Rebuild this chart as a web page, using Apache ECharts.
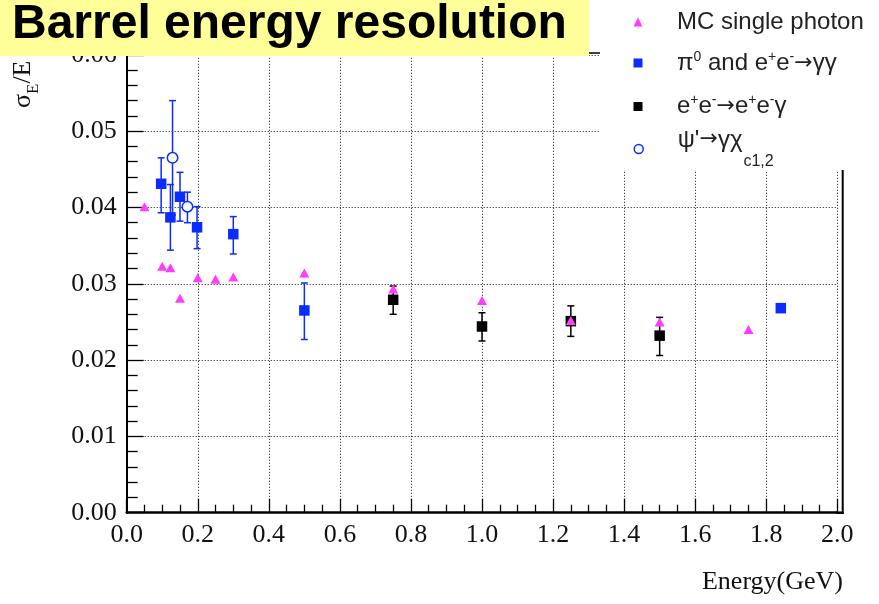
<!DOCTYPE html>
<html>
<head>
<meta charset="utf-8">
<script src="https://cdn.jsdelivr.net/npm/echarts@6/dist/echarts.min.js"></script>
<style>
  html, body { margin: 0; padding: 0; background: #fff; }
  #chart { width: 879px; height: 604px; }
</style>
</head>
<body>
<div id="chart"></div>
<script>
// ---- data ----
// MC single photon
const mcEnergy = [0.05, 0.10, 0.123, 0.15, 0.20, 0.25, 0.30, 0.50, 0.75, 1.00, 1.25, 1.50, 1.75];
const mcRes    = [0.0401, 0.0323, 0.0321, 0.0281, 0.0308, 0.0306, 0.0309, 0.0314, 0.0293, 0.0278, 0.0252, 0.0250, 0.0240];

// pi0 and e+e- -> gamma gamma
const ggEnergy = [0.097, 0.123, 0.150, 0.198, 0.300, 0.500, 1.841];
const ggRes    = [0.0431, 0.0387, 0.0414, 0.0374, 0.0365, 0.0265, 0.0268];
const ggLow    = [0.0393, 0.0344, 0.0382, 0.0346, 0.0339, 0.0227, null];
const ggHigh   = [0.0465, 0.0430, 0.0446, 0.0401, 0.0388, 0.0301, null];

// e+e- -> e+e- gamma
const eegEnergy = [0.75, 1.00, 1.25, 1.50];
const eegRes    = [0.0279, 0.0244, 0.0251, 0.0232];
const eegLow    = [0.0260, 0.0225, 0.0231, 0.0206];
const eegHigh   = [0.0297, 0.0262, 0.0271, 0.0256];

// psi' -> gamma chi_c1,2
const psiEnergy = [0.129, 0.171];
const psiRes    = [0.0465, 0.0401];
const psiLow    = [0.0390, 0.0380];
const psiHigh   = [0.0540, 0.0420];

// axis ticks
const xTicks = { min: 0, max: 2.0, step: 0.2 };
const yTicks = { min: 0, max: 0.06, step: 0.01 };

const seriesNames = ['MC single photon', 'π0 and e+e-→γγ', 'e+e-→e+e-γ', "ψ'→γχc1,2"];

// ---- styling ----
const BLUE = '#0b2cff';
const MAGENTA = '#ff3cff';
const BLACK = '#000000';
const SERIF = '"Liberation Serif", "Times New Roman", serif';
const SANS = '"Liberation Sans", Arial, Helvetica, sans-serif';

const pairs = (xs, ys) => xs.map((x, i) => [x, ys[i]]);
const errRows = (xs, lo, hi) => xs.map((x, i) => [x, lo[i], hi[i]]);

function errorBars(xs, lo, hi, color) {
  return {
    type: 'custom',
    silent: true,
    data: errRows(xs, lo, hi),
    encode: { x: 0, y: [1, 2] },
    renderItem(params, api) {
      const x = api.value(0), l = api.value(1), h = api.value(2);
      if (isNaN(l) || isNaN(h)) return null;
      const top = api.coord([x, h]);
      const bot = api.coord([x, l]);
      const c = 3.5;
      const st = { stroke: color, lineWidth: 1.5 };
      return {
        type: 'group',
        children: [
          { type: 'line', shape: { x1: top[0], y1: top[1], x2: bot[0], y2: bot[1] }, style: st },
          { type: 'line', shape: { x1: top[0] - c, y1: top[1], x2: top[0] + c, y2: top[1] }, style: st },
          { type: 'line', shape: { x1: bot[0] - c, y1: bot[1], x2: bot[0] + c, y2: bot[1] }, style: st }
        ]
      };
    }
  };
}

// legend labels with super/subscripts
const legendText = {
  [seriesNames[0]]: '{g| }MC single photon',
  [seriesNames[1]]: '{g| }π{p|0} and e{p|+}e{p|-}{r|→}γγ',
  [seriesNames[2]]: '{g| }e{p|+}e{p|-}{r|→}e{p|+}e{p|-}γ',
  [seriesNames[3]]: "{g| }{t|ψ'}{rt|→}{t|γχ}{b|c1,2}"
};
const legendRich = {
  g: { width: 29.5, fontSize: 10 },
  p: { fontSize: 14, fontFamily: SANS, color: '#222', verticalAlign: 'top' },
  r: { fontSize: 22, fontFamily: '"DejaVu Sans"', color: '#222' },
  t: { fontSize: 24, fontFamily: SANS, color: '#222', verticalAlign: 'top', lineHeight: 26 },
  rt: { fontSize: 22, fontFamily: '"DejaVu Sans"', color: '#222', verticalAlign: 'top', lineHeight: 26 },
  b: { fontSize: 16, fontFamily: SANS, color: '#222', verticalAlign: 'top', padding: [25, 0, 0, 1], lineHeight: 41 }
};
function legendBox(name, icon, top, itemStyle) {
  return {
    orient: 'vertical',
    left: 633.5,
    top: top,
    padding: 0,
    itemWidth: 9,
    itemHeight: 9,
    selectedMode: false,
    z: 20,
    data: [{ name: name, icon: icon, itemStyle: itemStyle }],
    formatter: n => legendText[n],
    textStyle: { fontSize: 24, fontFamily: SANS, color: '#222', lineHeight: 26, rich: legendRich }
  };
}

const chart = echarts.init(document.getElementById('chart'), null, { renderer: 'canvas' });

const option = {
  animation: false,
  backgroundColor: '#ffffff',
  grid: { left: 126.7, right: 41.7, top: 54.8, bottom: 91.3, containLabel: false, outerBoundsMode: 'none' },
  xAxis: {
    type: 'value',
    min: xTicks.min, max: xTicks.max, interval: xTicks.step,
    axisLine: { show: true, onZero: false, lineStyle: { color: BLACK, width: 2.5 } },
    axisTick: { show: true, inside: true, length: 14, lineStyle: { color: BLACK, width: 1.3 } },
    minorTick: { show: true, splitNumber: 4, length: 8, lineStyle: { color: BLACK, width: 1.3 } },
    splitLine: { show: true, lineStyle: { color: '#111', width: 1, type: [1, 2] } },
    axisLabel: { margin: 9, fontSize: 26, fontFamily: SERIF, color: '#111', formatter: v => v.toFixed(1) }
  },
  yAxis: {
    type: 'value',
    min: yTicks.min, max: yTicks.max, interval: yTicks.step,
    axisLine: { show: true, onZero: false, lineStyle: { color: BLACK, width: 2 } },
    axisTick: { show: true, inside: true, length: 17, lineStyle: { color: BLACK, width: 1.3 } },
    minorTick: { show: true, splitNumber: 5, length: 11, lineStyle: { color: BLACK, width: 1.3 } },
    splitLine: { show: true, lineStyle: { color: '#111', width: 1, type: [1, 2] } },
    axisLabel: { margin: 10, fontSize: 26, fontFamily: SERIF, color: '#111', formatter: v => v.toFixed(2) }
  },
  legend: [
    legendBox(seriesNames[0], 'triangle', 9, { color: MAGENTA }),
    legendBox(seriesNames[1], 'rect', 50, { color: BLUE }),
    legendBox(seriesNames[2], 'rect', 93.5, { color: BLACK }),
    legendBox(seriesNames[3], 'circle', 128.5, { color: '#ffffff', borderColor: BLUE, borderWidth: 1.5 })
  ],
  series: [
    errorBars(ggEnergy, ggLow, ggHigh, BLUE),
    {
      name: seriesNames[1], type: 'scatter', symbol: 'rect', symbolSize: 10.5,
      itemStyle: { color: BLUE, opacity: 1 }, data: pairs(ggEnergy, ggRes)
    },
    errorBars(eegEnergy, eegLow, eegHigh, BLACK),
    {
      name: seriesNames[2], type: 'scatter', symbol: 'rect', symbolSize: 10.5,
      itemStyle: { color: BLACK, opacity: 1 }, data: pairs(eegEnergy, eegRes)
    },
    errorBars(psiEnergy, psiLow, psiHigh, BLUE),
    {
      name: seriesNames[3], type: 'scatter', symbol: 'circle', symbolSize: 10.5,
      itemStyle: { color: '#ffffff', borderColor: BLUE, borderWidth: 1.5, opacity: 1 }, data: pairs(psiEnergy, psiRes)
    },
    {
      name: seriesNames[0], type: 'scatter', symbol: 'triangle', symbolSize: [10, 9],
      itemStyle: { color: MAGENTA, opacity: 1 }, data: pairs(mcEnergy, mcRes)
    }
  ],
  graphic: [
    // frame: top and right edges
    { type: 'line', z: 1, silent: true, shape: { x1: 126.7, y1: 53, x2: 842.7, y2: 53 }, style: { stroke: BLACK, lineWidth: 1.5 } },
    { type: 'line', z: 1, silent: true, shape: { x1: 842.7, y1: 53, x2: 842.7, y2: 513.9 }, style: { stroke: BLACK, lineWidth: 2 } },
    { type: 'line', z: 1, silent: true, shape: { x1: 836, y1: 512.7, x2: 843.7, y2: 512.7 }, style: { stroke: BLACK, lineWidth: 2.5 } },
    // legend backdrop
    { type: 'rect', z: 10, silent: true, shape: { x: 600, y: 0, width: 279, height: 170 }, style: { fill: '#ffffff' } },
    // y axis title
    {
      type: 'text', z: 5, silent: true, x: 10, y: 108, rotation: Math.PI / 2,
      style: {
        text: '{a|σ}{s|E}{a|/E}', align: 'left', verticalAlign: 'top',
        rich: {
          a: { fontSize: 26, fontFamily: SERIF, fill: '#111', verticalAlign: 'top', lineHeight: 26 },
          s: { fontSize: 17, fontFamily: SERIF, fill: '#111', verticalAlign: 'top', padding: [15, 0, 0, 0], lineHeight: 34 }
        }
      }
    },
    // x axis title
    {
      type: 'text', z: 5, silent: true, x: 843, y: 582,
      style: { text: 'Energy(GeV)', align: 'right', verticalAlign: 'middle', fontSize: 26, fontFamily: SERIF, fill: '#111' }
    },
    // title banner
    { type: 'rect', z: 30, silent: true, shape: { x: 0, y: 0, width: 589, height: 56 }, style: { fill: '#ffff99' } },
    {
      type: 'text', z: 31, silent: true, x: 12, y: 25,
      style: { text: 'Barrel energy resolution', align: 'left', verticalAlign: 'middle', fontSize: 48, fontWeight: 'bold', fontFamily: SANS, fill: '#000' }
    }
  ]
};

chart.setOption(option);
</script>
</body>
</html>
